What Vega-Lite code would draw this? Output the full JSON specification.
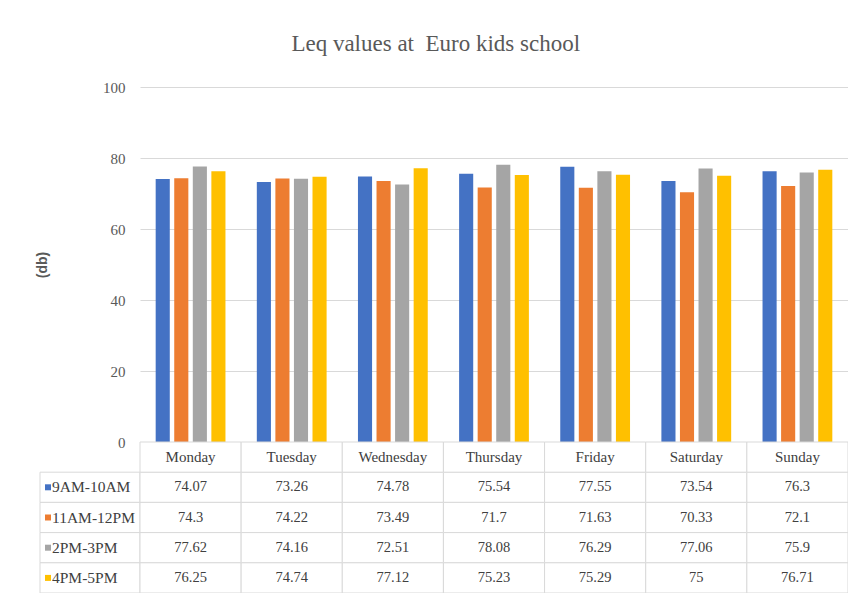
{
  "$schema": "https://vega.github.io/schema/vega-lite/v6.json",
  "padding": {"left": 35, "top": 33, "right": 5, "bottom": 0},
  "title": {
    "text": "Leq values at \u00a0Euro kids school",
    "font": "Liberation Serif",
    "fontSize": 23,
    "fontWeight": "normal",
    "color": "#595959",
    "anchor": "middle",
    "dx": -6,
    "offset": 24
  },
  "config": {"view": {"stroke": null}, "font": "Liberation Serif"},
  "datasets": {
    "leq": [
      {"day": "Monday", "slot": "9AM-10AM", "db": 74.07},
      {"day": "Tuesday", "slot": "9AM-10AM", "db": 73.26},
      {"day": "Wednesday", "slot": "9AM-10AM", "db": 74.78},
      {"day": "Thursday", "slot": "9AM-10AM", "db": 75.54},
      {"day": "Friday", "slot": "9AM-10AM", "db": 77.55},
      {"day": "Saturday", "slot": "9AM-10AM", "db": 73.54},
      {"day": "Sunday", "slot": "9AM-10AM", "db": 76.3},
      {"day": "Monday", "slot": "11AM-12PM", "db": 74.3},
      {"day": "Tuesday", "slot": "11AM-12PM", "db": 74.22},
      {"day": "Wednesday", "slot": "11AM-12PM", "db": 73.49},
      {"day": "Thursday", "slot": "11AM-12PM", "db": 71.7},
      {"day": "Friday", "slot": "11AM-12PM", "db": 71.63},
      {"day": "Saturday", "slot": "11AM-12PM", "db": 70.33},
      {"day": "Sunday", "slot": "11AM-12PM", "db": 72.1},
      {"day": "Monday", "slot": "2PM-3PM", "db": 77.62},
      {"day": "Tuesday", "slot": "2PM-3PM", "db": 74.16},
      {"day": "Wednesday", "slot": "2PM-3PM", "db": 72.51},
      {"day": "Thursday", "slot": "2PM-3PM", "db": 78.08},
      {"day": "Friday", "slot": "2PM-3PM", "db": 76.29},
      {"day": "Saturday", "slot": "2PM-3PM", "db": 77.06},
      {"day": "Sunday", "slot": "2PM-3PM", "db": 75.9},
      {"day": "Monday", "slot": "4PM-5PM", "db": 76.25},
      {"day": "Tuesday", "slot": "4PM-5PM", "db": 74.74},
      {"day": "Wednesday", "slot": "4PM-5PM", "db": 77.12},
      {"day": "Thursday", "slot": "4PM-5PM", "db": 75.23},
      {"day": "Friday", "slot": "4PM-5PM", "db": 75.29},
      {"day": "Saturday", "slot": "4PM-5PM", "db": 75},
      {"day": "Sunday", "slot": "4PM-5PM", "db": 76.71}
    ]
  },
  "columns": 2,
  "spacing": 0,
  "bounds": "flush",
  "concat": [
    {
      "width": 100,
      "height": 355,
      "data": {"values": []},
      "mark": {"type": "rect", "opacity": 0},
      "encoding": {}
    },
    {
      "width": 708,
      "height": 355,
      "data": {"name": "leq"},
      "mark": {"type": "bar"},
      "encoding": {
        "x": {
          "field": "day",
          "type": "nominal",
          "sort": ["Monday", "Tuesday", "Wednesday", "Thursday", "Friday", "Saturday", "Sunday"],
          "scale": {"paddingInner": 0.31, "paddingOuter": 0.155},
          "axis": null
        },
        "xOffset": {
          "field": "slot",
          "type": "nominal",
          "sort": ["9AM-10AM", "11AM-12PM", "2PM-3PM", "4PM-5PM"],
          "scale": {"paddingInner": 0.24, "paddingOuter": 0}
        },
        "y": {
          "field": "db",
          "type": "quantitative",
          "scale": {"domain": [0, 100]},
          "axis": {
            "values": [0, 20, 40, 60, 80, 100],
            "domain": false,
            "ticks": false,
            "grid": true,
            "gridColor": "#d9d9d9",
            "labelFont": "Liberation Serif",
            "labelFontSize": 15,
            "labelColor": "#595959",
            "labelPadding": 15,
            "title": "(db)",
            "titleFont": "Liberation Sans",
            "titleFontSize": 14,
            "titleFontWeight": "bold",
            "titleColor": "#595959",
            "titleBaseline": "middle",
            "titleX": -98
          }
        },
        "color": {
          "field": "slot",
          "type": "nominal",
          "scale": {
            "domain": ["9AM-10AM", "11AM-12PM", "2PM-3PM", "4PM-5PM"],
            "range": ["#4472C4", "#ED7D31", "#A5A5A5", "#FFC000"]
          },
          "legend": null
        }
      }
    },
    {
      "width": 100,
      "height": 151,
      "data": {"name": "leq"},
      "transform": [{"filter": {"field": "day", "equal": "Monday"}}],
      "encoding": {
        "y": {
          "field": "slot",
          "type": "nominal",
          "scale": {
            "domain": [" ", "9AM-10AM", "11AM-12PM", "2PM-3PM", "4PM-5PM"],
            "paddingInner": 0,
            "paddingOuter": 0
          },
          "axis": null
        }
      },
      "layer": [
        {"mark": {"type": "rect", "fill": "white", "stroke": "#d9d9d9", "strokeWidth": 1}},
        {
          "mark": {"type": "square", "x": 8, "size": 36, "opacity": 1},
          "encoding": {
            "color": {
              "field": "slot",
              "type": "nominal",
              "scale": {
                "domain": ["9AM-10AM", "11AM-12PM", "2PM-3PM", "4PM-5PM"],
                "range": ["#4472C4", "#ED7D31", "#A5A5A5", "#FFC000"]
              },
              "legend": null
            }
          }
        },
        {
          "mark": {"type": "text", "align": "left", "baseline": "middle", "x": 12, "font": "Liberation Serif", "fontSize": 15.5, "color": "#404040"},
          "encoding": {"text": {"field": "slot", "type": "nominal"}}
        }
      ]
    },
    {
      "width": 708,
      "height": 151,
      "data": {"name": "leq"},
      "encoding": {
        "x": {
          "field": "day",
          "type": "nominal",
          "sort": ["Monday", "Tuesday", "Wednesday", "Thursday", "Friday", "Saturday", "Sunday"],
          "scale": {"paddingInner": 0, "paddingOuter": 0},
          "axis": null
        },
        "y": {
          "field": "slot",
          "type": "nominal",
          "scale": {
            "domain": [" ", "9AM-10AM", "11AM-12PM", "2PM-3PM", "4PM-5PM"],
            "paddingInner": 0,
            "paddingOuter": 0
          },
          "axis": null
        }
      },
      "layer": [
        {"mark": {"type": "rect", "fill": "white", "stroke": "#d9d9d9", "strokeWidth": 1}},
        {
          "mark": {"type": "text", "align": "center", "baseline": "middle", "font": "Liberation Serif", "fontSize": 14.5, "color": "#404040"},
          "encoding": {"text": {"field": "db", "type": "nominal"}}
        },
        {
          "transform": [{"filter": {"field": "slot", "equal": "9AM-10AM"}}],
          "encoding": {"y": {"datum": " ", "type": "nominal"}},
          "layer": [
            {"mark": {"type": "rect", "fill": "white", "stroke": "#d9d9d9", "strokeWidth": 1}},
            {
              "mark": {"type": "text", "align": "center", "baseline": "middle", "font": "Liberation Serif", "fontSize": 15, "color": "#404040"},
              "encoding": {"text": {"field": "day", "type": "nominal"}}
            }
          ]
        }
      ]
    }
  ]
}
